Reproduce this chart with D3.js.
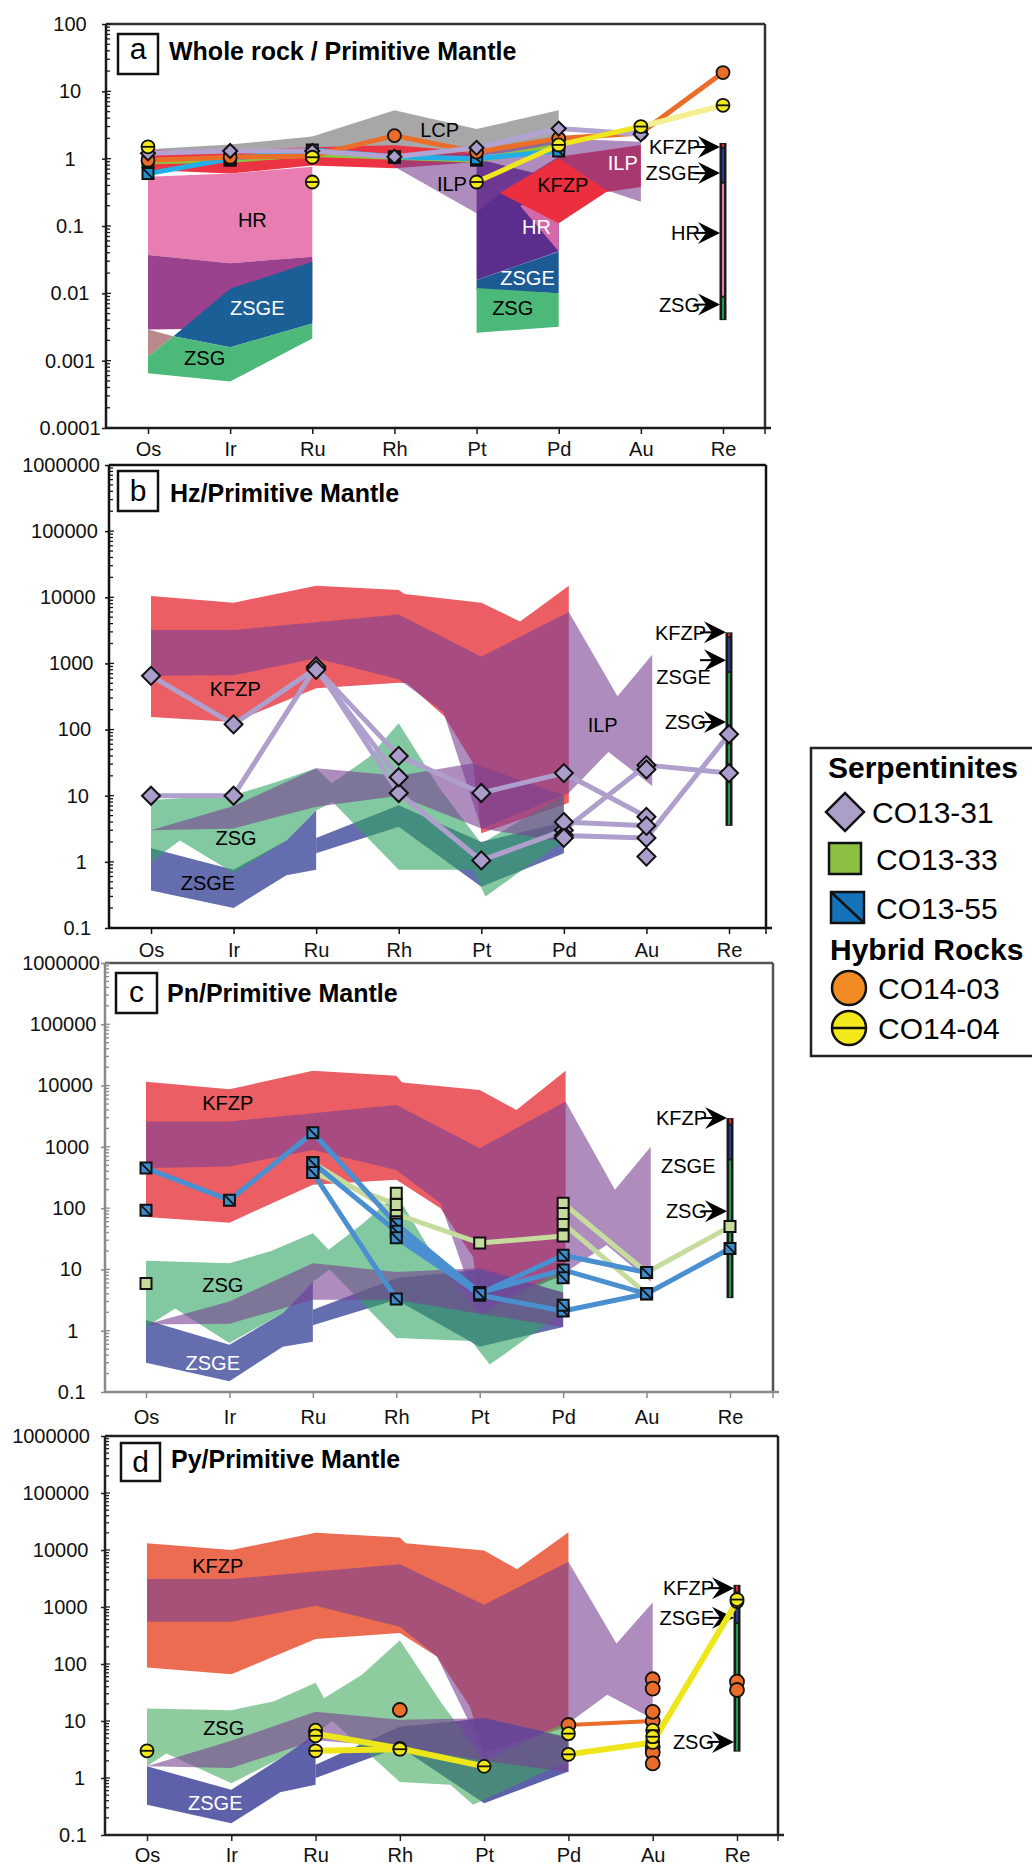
<!DOCTYPE html>
<html>
<head>
<meta charset="utf-8">
<script src="https://cdn.jsdelivr.net/npm/d3@7"></script>
<style>
  body { margin: 0; background: #ffffff; }
  svg { display: block; font-family: "Liberation Sans", Arial, sans-serif; }
</style>
</head>
<body>
<svg id="chart" width="1032" height="1870"></svg>
<script>
// ---------- categories and axis ticks ----------
const elements = ["Os", "Ir", "Ru", "Rh", "Pt", "Pd", "Au", "Re"];
const ticksA = [0.0001, 0.001, 0.01, 0.1, 1, 10, 100];
const tickTextA = ["0.0001", "0.001", "0.01", "0.1", "1", "10", "100"];
const ticksBCD = [0.1, 1, 10, 100, 1000, 10000, 100000, 1000000];
const tickTextBCD = ["0.1", "1", "10", "100", "1000", "10000", "100000", "1000000"];

// ---------- reference fields, panel a (element index, normalised value) ----------
const fieldLCP_a = [[0,1.38],[1,1.62],[2,2.14],[3,5.25],[4,2.75],[5,5.25],[5,1.41],[4,1.12],[3,1.05],[2,1.05],[1,1.0],[0,0.95]];
const fieldKFZP_a = [[0,1.35],[1,1.32],[2,1.48],[3,1.58],[4,1.26],[4,0.89],[3,0.72],[2,0.79],[1,0.6],[0,0.68]];
const fieldHR_a = [[0,0.54],[1,0.6],[2,0.76],[2,0.035],[1,0.028],[0,0.037]];
const fieldHRlow_a = [[0,0.037],[1,0.028],[2,0.035],[2,0.004],[1,0.003],[0,0.0029]];
const fieldZSGE_a = [[0.31,0.0023],[1,0.0117],[2,0.0295],[2,0.00355],[1,0.00158]];
const fieldMix_a = [[0,0.0029],[0.31,0.0023],[0,0.00115]];
const fieldZSG_a = [[0,0.00115],[0.31,0.0023],[1,0.00158],[2,0.00355],[2,0.00214],[1,0.00049],[0,0.00065]];
const fieldHRpt_a = [[4,1.0],[5,0.5],[5,0.042],[4,0.0158]];
const fieldHRtri_a = [[4.53,0.2],[5,0.3],[5,0.042]];
const fieldZSGEpt_a = [[4,0.0158],[5,0.0417],[5,0.010],[4,0.0112]];
const fieldZSGpt_a = [[4,0.012],[5,0.010],[5,0.0032],[4,0.0026]];
const fieldKFZPpd_a = [[4.28,0.31],[5,1.07],[6,1.6],[6,0.38],[5.58,0.32],[5,0.11]];
const fieldILP_a = [[3,1.05],[4,1.26],[5,2.0],[6,1.78],[6,0.23],[5.58,0.34],[5,1.0],[4.28,0.31],[4,0.155],[3,0.76]];

// ---------- reference fields, panel b ----------
const fieldKFZP_b = [[0,10500],[1,8300],[2,15000],[3,12900],[3.07,11200],[4,8300],[4.47,4300],[5.06,15000],
  [5.06,7.8],[4.0,2.7],[3.9,31],[3.55,160],[3.1,500],[3,510],[2,420],[1,130],[0,155]];
const fieldILP_b = [[0,3200],[1,3200],[2,4200],[3,5500],[4,1260],[5.06,6000],[5.65,320],[6.07,1350],
  [6.07,14],[5.54,46],[5.06,11],[4,3.2],[3.54,185],[3,575],[2,1200],[1,660],[0,650]];
const fieldILPlow_b = [[0,3.0],[1,7],[2,26],[3,20],[3.9,31],[5,10],[5,2],[4,3.2],[3,10],[2,6.8],[1,3.2],[0,3.0]];
const fieldZSGEleft_b = [[0,1.6],[1,0.76],[1.64,2.1],[2,6.0],[2,0.76],[1.64,0.63],[1,0.2],[0,0.37]];
const fieldZSGEright_b = [[2,2.3],[3,7.2],[4,2.0],[5,4.0],[5,1.35],[4,0.42],[3,3.4],[2,1.35]];
const fieldZSG_b = [[0,8.6],[1,10.2],[1.5,15.8],[2,26],[2.19,15.5],[2.65,39],[3,125],[3.5,12.6],[4,1.9],[5,10.2],
  [5,2.1],[4.05,0.3],[3.9,0.76],[3,0.76],[2.2,8],[2,6],[1.64,2.1],[1,0.68],[0.35,2.1],[0,1.0]];

// ---------- reference fields, panel c ----------
const fieldKFZP_c = [[0,11500],[1,8700],[2,17400],[3,14500],[3.07,11200],[4,8500],[4.44,4000],[5.03,17400],
  [5.03,8],[4.0,2.8],[3.92,16],[3.53,100],[3.0,290],[2,240],[1,58],[0,72]];
const fieldILP_c = [[0,2600],[1,2600],[2,3550],[3,4800],[4,950],[5.03,5500],[5.62,200],[6.05,1000],
  [6.05,6.3],[5.52,25],[5.03,9],[4,1.7],[3.53,120],[3,420],[2,890],[1,480],[0,450]];
const fieldILPlow_c = [[0,1.26],[1,3.0],[2,12.6],[3,9.1],[4,10.5],[5,4.2],[5,1.15],[4,1.9],[3,3.2],[2,3.2],[1,1.3],[0,1.26]];
const fieldZSGEleft_c = [[0,1.5],[1,0.59],[1.64,1.95],[2,6.3],[2,0.66],[1.64,0.55],[1,0.15],[0,0.3]];
const fieldZSGEright_c = [[2,2.2],[3,7.2],[4,10],[5,4.2],[5,1.15],[4,0.55],[3,3.2],[2,1.23]];
const fieldZSG_c = [[0,13.8],[1,12.6],[1.5,20],[2,39],[2.19,21],[2.6,56],[3,170],[3.5,12.6],[4,1.9],[5,10],
  [5,2],[4.12,0.28],[3.9,0.68],[3,0.76],[2.2,10],[2,6.3],[1.64,1.95],[1,0.63],[0.35,2.3],[0,1.15]];

// ---------- reference fields, panel d ----------
const fieldKFZP_d = [[0,13200],[1,10000],[2,20000],[3,16600],[3.07,13200],[4,9800],[4.39,4600],[5,20400],
  [5,8],[4,2.8],[3.83,18],[3.44,135],[3,350],[2,275],[1,66],[0,87]];
const fieldILP_d = [[0,3100],[1,3100],[2,4200],[3,5600],[4,1100],[5,6200],[5.57,230],[6,1200],
  [6,11],[5.46,29],[5,9.1],[4,2.75],[3.44,135],[3,450],[2,1050],[1,550],[0,550]];
const fieldILPlow_d = [[0,1.6],[1,4.5],[2,14.5],[3,10.5],[4,11.2],[5,5],[5,1.26],[4,2],[3,3.5],[2,4.6],[1,1.5],[0,1.6]];
const fieldZSGEleft_d = [[0,1.6],[1,0.62],[1.58,2.2],[2,6.0],[2,0.76],[1.58,0.56],[1,0.16],[0,0.34]];
const fieldZSGEright_d = [[2,1.7],[3,7.9],[4,11.2],[5,5.2],[5,1.3],[4,0.36],[3,3.5],[2,1.0]];
const fieldZSG_d = [[0,16.6],[1,15.5],[1.5,22],[2,47],[2.1,25],[2.55,65],[3,260],[3.5,20],[4,2],[5,10],
  [5,2],[3.87,0.34],[3.6,0.76],[3,0.85],[2.2,10],[2,6],[1.58,2.2],[1,0.81],[0.23,2.7],[0,1.6]];

// ---------- Re ranges of the fields (top, bottom, field) ----------
const reBarA = [[1.71,1.44,"KFZP"],[1.44,0.44,"ZSGE"],[0.44,0.0089,"HR"],[0.0089,0.004,"ZSG"]];
const reBarB = [[2950,2500,"KFZP"],[2500,740,"ZSGE"],[740,3.5,"ZSG"]];
const reBarC = [[2950,2300,"KFZP"],[2300,620,"ZSGE"],[620,3.4,"ZSG"]];
const reBarD = [[2450,1800,"KFZP"],[1800,525,"ZSGE"],[525,2.9,"ZSG"]];

// ---------- arrow annotations at Re (label, value) ----------
const arrowsA = [["KFZP",1.49],["ZSGE",0.61],["HR",0.079],["ZSG",0.0068]];
const arrowsB = [["KFZP",2950],["",1120],["ZSG",130]];
const arrowsC = [["KFZP",2950],["ZSG",89]];
const arrowsD = [["KFZP",2140],["ZSGE",645],["ZSG",4.3]];

// ---------- field labels (text, element index, value, colour) ----------
const labelsA = [["LCP",3.55,2.67,"#000"],["HR",1.27,0.123,"#000"],["ZSGE",1.33,0.006,"#fff"],["ZSG",0.69,0.0011,"#000"],
  ["ILP",3.70,0.42,"#000"],["KFZP",5.05,0.41,"#000"],["HR",4.73,0.097,"#fff"],["ZSGE",4.62,0.017,"#fff"],
  ["ZSG",4.44,0.006,"#000"],["ILP",5.78,0.86,"#fff"]];
const labelsB = [["KFZP",1.02,410,"#000"],["ZSG",1.03,2.3,"#000"],["ZSGE",0.69,0.48,"#000"],["ILP",5.47,120,"#000"],["ZSGE",6.45,630,"#000"]];
const labelsC = [["KFZP",0.98,5200,"#000"],["ZSG",0.92,5.6,"#000"],["ZSGE",0.80,0.30,"#fff"],["ZSGE",6.5,500,"#000"]];
const labelsD = [["KFZP",0.84,5200,"#000"],["ZSG",0.91,7.6,"#000"],["ZSGE",0.81,0.36,"#fff"]];

// ---------- sample data: panel a, whole rock ----------
const aCO13_31 = [1.2, 1.3, 1.3, 1.07, 1.45, 2.8, 2.3, null];
const aCO13_33 = [0.9, 0.95, 1.15, 1.05, 0.95, 1.55, null, null];
const aCO13_55 = [0.6, 1.0, 1.35, 1.07, 1.0, 1.3, null, null];
const aCO14_03 = [0.95, 1.05, 1.1, 2.2, 1.25, 2.0, 2.4, 19];
const aCO14_04 = [1.5, null, 1.05, null, 0.45, 1.6, 3.0, 6.2];
const aCO14_04_extra = [[2, 0.45]];

// ---------- panel b, Hz ----------
const bCO13_31_1 = [650, 120, 850, 40, 11, 22, 4.8, null];
const bCO13_31_2 = [10, 10, 900, 11, 1.05, 3.0, 29, 22];
const bCO13_31_3 = [null, null, 800, 19, null, null, null, null];
const bCO13_31_4 = [null, null, null, null, null, 2.5, 2.3, 85];
const bCO13_31_5 = [null, null, null, null, null, 4.0, 3.5, null];
const bCO13_31_extra = [[5, 2.3], [6, 25], [6, 1.2]];

// ---------- panel c, Pn ----------
const cCO13_33_1 = [null, null, 550, 80, 27, 35, null, null];
const cCO13_33_2 = [null, null, 380, 115, null, 120, 8.9, 50];
const cCO13_33_3 = [null, null, null, null, null, 56, 4.0, null];
const cCO13_33_extra = [[0, 5.9], [3, 175], [5, 82], [3, 60]];
const cCO13_55_1 = [450, 135, 1700, 55, 4.2, 9.8, 4.0, 22];
const cCO13_55_2 = [null, null, 550, 42, 3.8, 2.1, 4.0, null];
const cCO13_55_3 = [null, null, 380, 3.3, null, null, null, null];
const cCO13_55_4 = [null, null, null, 33, 4.0, 17, 8.9, null];
const cCO13_55_extra = [[0, 92], [5, 7.3], [5, 2.6]];

// ---------- panel d, Py ----------
const dCO14_03_1 = [null, null, null, null, null, 8.5, 10, null];
const dCO14_03_extra = [[3, 15.6], [6, 54], [6, 37], [6, 14.5], [6, 3.5], [6, 2.8], [6, 1.8], [7, 49], [7, 35]];
const dCO14_04_1 = [null, null, 6.0, 3.3, 1.6, null, null, null];
const dCO14_04_2 = [null, null, 3.0, 3.2, null, null, null, null];
const dCO14_04_3 = [null, null, null, null, null, 2.6, 4.2, 1250];
const dCO14_04_extra = [[0, 3.0], [2, 6.9], [2, 5.5], [5, 6.0], [6, 6.9], [6, 5.3], [7, 1350]];

// ---------- styles ----------
const ILP_FILL = "rgb(122,63,147)";
const reColours = { KFZP: "#e8202e", ZSGE: "#2b3a9a", HR: "#e77db0", ZSG: "#1f9a4a" };
const markColours = {
  diamond: "#ab9dcb", green: "#8bc043", greenPale: "#c6dc9e", blue: "#1f8fd0", blueC: "#3f8ccc",
  orange: "#ea6d2a", yellow: "#f2e81c"
};

const svg = d3.select("#chart");

const panels = [
  {
    letter: "a", title: "Whole rock / Primitive Mantle",
    left: 106, right: 765, top: 24, bottom: 428, xFirst: 148, xLast: 723,
    yDom: [1e-4, 100], ticks: ticksA, tickText: tickTextA,
    axisColour: "#1a1a1a", frameColour: "#333", labelPad: 8,
    box: [118, 34, 40, 40], letterY: 59, titleX: 169, titleY: 60,
    tickX: len => ({ anchor: "middle", x: 70 }),
    fields: [
      [fieldLCP_a, "#a7a7a7", 1], [fieldKFZP_a, "#ec3344", 1],
      [fieldHR_a, "#e77db0", 1], [fieldHRlow_a, "#9b418e", 1], [fieldZSGE_a, "#1b5f97", 1],
      [fieldMix_a, "#b9898c", 1], [fieldZSG_a, "#4cb97a", 1],
      [fieldHRpt_a, "#5b2e8e", 1], [fieldHRtri_a, "#d468a8", 1], [fieldZSGEpt_a, "#1d5b95", 1], [fieldZSGpt_a, "#4cb97a", 1],
      [fieldKFZPpd_a, "#ec2f3e", 1], [fieldILP_a, ILP_FILL, 0.6]
    ],
    reBar: reBarA, arrows: arrowsA, labels: labelsA
  },
  {
    letter: "b", title: "Hz/Primitive Mantle",
    left: 109, right: 766, top: 465, bottom: 928, xFirst: 151, xLast: 729,
    yDom: [0.1, 1e6], ticks: ticksBCD, tickText: tickTextBCD,
    axisColour: "#111", frameColour: "#111", labelPad: 9,
    box: [118, 471, 40, 40], letterY: 501, titleX: 170, titleY: 502,
    tickX: len => ({ anchor: "end", x: 100 - (7 - len) * 2.2 }),
    fields: [
      [fieldKFZP_b, "#ea5e64", 1], [fieldILP_b, ILP_FILL, 0.6],
      [fieldZSGEleft_b, "rgb(83,94,166)", 0.9], [fieldZSGEright_b, "rgb(83,94,166)", 0.9],
      [fieldZSG_b, "rgb(47,163,97)", 0.6], [fieldILPlow_b, ILP_FILL, 0.6]
    ],
    reBar: reBarB, arrows: arrowsB, labels: labelsB
  },
  {
    letter: "c", title: "Pn/Primitive Mantle",
    left: 105, right: 773, top: 963, bottom: 1392, xFirst: 146, xLast: 730,
    yDom: [0.1, 1e6], ticks: ticksBCD, tickText: tickTextBCD,
    axisColour: "#8a8a8a", frameColour: "#555", labelPad: 12,
    box: [116, 973, 41, 40], letterY: 1002, titleX: 167, titleY: 1002,
    tickX: len => ({ anchor: "end", x: 100 - (7 - len) * 3.6 }),
    fields: [
      [fieldKFZP_c, "#ea5e64", 1], [fieldILP_c, ILP_FILL, 0.6],
      [fieldZSGEleft_c, "rgb(83,94,166)", 0.9], [fieldZSGEright_c, "rgb(83,94,166)", 0.9],
      [fieldZSG_c, "rgb(47,163,97)", 0.6], [fieldILPlow_c, ILP_FILL, 0.6]
    ],
    reBar: reBarC, arrows: arrowsC, labels: labelsC
  },
  {
    letter: "d", title: "Py/Primitive Mantle",
    left: 105, right: 778, top: 1436, bottom: 1835, xFirst: 147, xLast: 737,
    yDom: [0.1, 1e6], ticks: ticksBCD, tickText: tickTextBCD,
    axisColour: "#222", frameColour: "#222", labelPad: 7,
    box: [121, 1443, 39, 38], letterY: 1472, titleX: 171, titleY: 1468,
    tickX: len => ({ anchor: "end", x: 90 - (7 - len) * 0.8 }),
    fields: [
      [fieldKFZP_d, "#ec6c52", 1], [fieldILP_d, ILP_FILL, 0.6],
      [fieldZSGEleft_d, "rgb(75,80,160)", 0.9], [fieldZSGEright_d, "rgb(75,80,160)", 0.9],
      [fieldZSG_d, "rgb(60,165,90)", 0.58], [fieldILPlow_d, ILP_FILL, 0.6]
    ],
    reBar: reBarD, arrows: arrowsD, labels: labelsD
  }
];

// sample series per panel: values, line colour, line width, marker, marker size
const seriesByPanel = {
  a: [
    { vals: aCO13_33, line: "#8cc63f", w: 5, mark: "square", fill: markColours.green, s: 11 },
    { vals: aCO13_55, line: "#22aee6", w: 5, mark: "squareDiag", fill: markColours.blue, s: 11 },
    { vals: aCO14_03, line: "#ea6d2a", w: 5, mark: "circle", fill: markColours.orange, s: 6.5 },
    { vals: aCO13_31, line: "#b3a3d2", w: 5, mark: "diamond", fill: markColours.diamond, s: 7 },
    { vals: aCO14_04, line: "#f0e61e", w: 5, mark: "circleBar", fill: markColours.yellow, s: 6.5, fadeLast: "#f4ef94" },
    { pts: aCO14_04_extra, mark: "circleBar", fill: markColours.yellow, s: 6.5 }
  ],
  b: [
    { vals: bCO13_31_1, line: "#ae9fcc", w: 5, mark: "diamond", fill: markColours.diamond, s: 9 },
    { vals: bCO13_31_2, line: "#ae9fcc", w: 5, mark: "diamond", fill: markColours.diamond, s: 9 },
    { vals: bCO13_31_3, line: "#ae9fcc", w: 5, mark: "diamond", fill: markColours.diamond, s: 9 },
    { vals: bCO13_31_4, line: "#ae9fcc", w: 5, mark: "diamond", fill: markColours.diamond, s: 9 },
    { vals: bCO13_31_5, line: "#ae9fcc", w: 5, mark: "diamond", fill: markColours.diamond, s: 9 },
    { pts: bCO13_31_extra, mark: "diamond", fill: markColours.diamond, s: 9 }
  ],
  c: [
    { vals: cCO13_33_1, line: "#c6dc9e", w: 5, mark: "square", fill: markColours.greenPale, s: 11 },
    { vals: cCO13_33_2, line: "#c6dc9e", w: 5, mark: "square", fill: markColours.greenPale, s: 11 },
    { vals: cCO13_33_3, line: "#c6dc9e", w: 5, mark: "square", fill: markColours.greenPale, s: 11 },
    { pts: cCO13_33_extra, mark: "square", fill: markColours.greenPale, s: 11 },
    { vals: cCO13_55_1, line: "#4a8fd0", w: 5, mark: "squareDiag", fill: markColours.blueC, s: 11 },
    { vals: cCO13_55_2, line: "#4a8fd0", w: 5, mark: "squareDiag", fill: markColours.blueC, s: 11 },
    { vals: cCO13_55_3, line: "#4a8fd0", w: 5, mark: "squareDiag", fill: markColours.blueC, s: 11 },
    { vals: cCO13_55_4, line: "#4a8fd0", w: 5, mark: "squareDiag", fill: markColours.blueC, s: 11 },
    { pts: cCO13_55_extra, mark: "squareDiag", fill: markColours.blueC, s: 11 }
  ],
  d: [
    { vals: dCO14_03_1, line: "#ea6d2a", w: 4, mark: "circle", fill: markColours.orange, s: 7 },
    { pts: dCO14_03_extra, mark: "circle", fill: markColours.orange, s: 7 },
    { vals: dCO14_04_1, line: "#eee61a", w: 6, mark: "circleBar", fill: markColours.yellow, s: 6.5 },
    { vals: dCO14_04_2, line: "#eee61a", w: 6, mark: "circleBar", fill: markColours.yellow, s: 6.5 },
    { vals: dCO14_04_3, line: "#eee61a", w: 6, mark: "circleBar", fill: markColours.yellow, s: 6.5 },
    { pts: dCO14_04_extra, mark: "circleBar", fill: markColours.yellow, s: 6.5 }
  ]
};

// ---------- marker drawing ----------
function drawMarker(g, type, cx, cy, s, fill) {
  if (type === "diamond") {
    g.append("path")
      .attr("d", d3.symbol(d3.symbolSquare, 2 * s * s)())
      .attr("transform", `translate(${cx},${cy}) rotate(45)`)
      .attr("fill", fill).attr("stroke", "#111").attr("stroke-width", 2);
  } else if (type === "square" || type === "squareDiag") {
    g.append("path")
      .attr("d", d3.symbol(d3.symbolSquare, s * s)())
      .attr("transform", `translate(${cx},${cy})`)
      .attr("fill", fill).attr("stroke", "#111").attr("stroke-width", 2);
    if (type === "squareDiag") {
      g.append("line").attr("x1", cx - s / 2).attr("y1", cy - s / 2).attr("x2", cx + s / 2).attr("y2", cy + s / 2)
        .attr("stroke", "#111").attr("stroke-width", 1.8);
    }
  } else {
    g.append("circle").attr("cx", cx).attr("cy", cy).attr("r", s)
      .attr("fill", fill).attr("stroke", "#111").attr("stroke-width", 1.8);
    if (type === "circleBar") {
      g.append("line").attr("x1", cx - s).attr("y1", cy).attr("x2", cx + s).attr("y2", cy)
        .attr("stroke", "#111").attr("stroke-width", 1.8);
    }
  }
}

// ---------- panels ----------
panels.forEach(p => {
  const g = svg.append("g").attr("class", "panel-" + p.letter);
  const x = d3.scaleLinear().domain([0, elements.length - 1]).range([p.xFirst, p.xLast]);
  const xCat = d3.scalePoint().domain(elements).range([p.xFirst, p.xLast]);
  const y = d3.scaleLog().domain(p.yDom).range([p.bottom, p.top]);

  // reference fields
  const area = d3.line().x(d => x(d[0])).y(d => y(d[1]));
  const fg = g.append("g");
  p.fields.forEach(([pts, fill, op]) => {
    fg.append("path").attr("d", area(pts) + "Z").attr("fill", fill).attr("fill-opacity", op);
  });

  // field labels
  p.labels.forEach(([t, xi, v, col]) => {
    g.append("text").attr("x", x(xi)).attr("y", y(v)).attr("dy", "0.36em")
      .attr("text-anchor", "middle").attr("font-size", 20).attr("fill", col).text(t);
  });

  // Re range bar
  const bx = x(7);
  const barTop = p.reBar[0][0], barBot = p.reBar[p.reBar.length - 1][1];
  g.append("rect").attr("x", bx - 3.5).attr("y", y(barTop)).attr("width", 7).attr("height", y(barBot) - y(barTop))
    .attr("fill", "#1a1a1a");
  p.reBar.forEach(([t, b, f]) => {
    g.append("rect").attr("x", bx - 1).attr("y", y(t) + 1).attr("width", 2).attr("height", Math.max(1, y(b) - y(t) - 2))
      .attr("fill", reColours[f]);
  });

  // arrows pointing at the Re bar
  p.arrows.forEach(([t, v]) => {
    const tx = bx - 3, ty = y(v);
    g.append("line").attr("x1", tx - 26).attr("y1", ty).attr("x2", tx - 12).attr("y2", ty)
      .attr("stroke", "#000").attr("stroke-width", 2);
    g.append("path").attr("d", `M${tx},${ty}L${tx - 22},${ty - 11}L${tx - 14},${ty}L${tx - 22},${ty + 11}Z`)
      .attr("fill", "#000");
    if (t) {
      g.append("text").attr("x", tx - 20).attr("y", ty).attr("dy", "0.36em").attr("text-anchor", "end")
        .attr("font-size", 20).attr("fill", "#000").text(t);
    }
  });

  // sample lines, then markers on top
  const lg = g.append("g");
  const mg = g.append("g");
  const line = d3.line().defined(d => d[1] != null).x(d => x(d[0])).y(d => y(d[1]));
  const series = seriesByPanel[p.letter];
  series.forEach(s => {
    if (!s.vals) return;
    const pts = s.vals.map((v, i) => [i, v]);
    lg.append("path").attr("d", line(pts)).attr("fill", "none").attr("stroke", s.line)
      .attr("stroke-width", s.w).attr("stroke-linejoin", "round").attr("stroke-linecap", "round");
    if (s.fadeLast && s.vals[6] != null && s.vals[7] != null) {
      lg.append("path").attr("d", line([[6, s.vals[6]], [7, s.vals[7]]])).attr("fill", "none")
        .attr("stroke", s.fadeLast).attr("stroke-width", s.w);
    }
  });
  series.forEach(s => {
    const pts = s.vals ? s.vals.map((v, i) => [i, v]).filter(d => d[1] != null) : s.pts;
    pts.forEach(d => drawMarker(mg, s.mark, x(d[0]), y(d[1]), s.s, s.fill));
  });

  // frame: top and right borders
  g.append("line").attr("x1", p.left).attr("x2", p.right).attr("y1", p.top).attr("y2", p.top)
    .attr("stroke", p.frameColour).attr("stroke-width", 2.5);
  g.append("line").attr("x1", p.right).attr("x2", p.right).attr("y1", p.top).attr("y2", p.bottom)
    .attr("stroke", p.frameColour).attr("stroke-width", 2.5);

  // left (log) axis
  const yAxis = g.append("g").attr("transform", `translate(${p.left},0)`)
    .call(d3.axisLeft(y).tickValues(p.ticks).tickFormat((d, i) => p.tickText[i]).tickSize(4).tickPadding(8));
  yAxis.select(".domain").remove();
  yAxis.selectAll(".tick line").attr("stroke", p.axisColour).attr("stroke-width", 1.5);
  yAxis.selectAll(".tick text").attr("font-size", 20).attr("fill", "#111")
    .attr("font-family", '"Liberation Sans", Arial, sans-serif')
    .each(function (d, i) {
      const pos = p.tickX(p.tickText[i].length);
      d3.select(this).attr("text-anchor", pos.anchor).attr("x", pos.x - p.left);
    });
  // inner major + minor ticks
  const minor = [];
  const lo = Math.round(Math.log10(p.yDom[0])), hi = Math.round(Math.log10(p.yDom[1]));
  for (let e = lo; e < hi; e++) for (let k = 1; k <= 9; k++) minor.push(k * Math.pow(10, e));
  minor.push(p.yDom[1]);
  g.append("g").selectAll("line").data(minor).join("line")
    .attr("x1", p.left).attr("x2", d => p.left + (Math.abs(Math.log10(d) - Math.round(Math.log10(d))) < 1e-9 ? 5 : 4))
    .attr("y1", d => y(d)).attr("y2", d => y(d))
    .attr("stroke", p.axisColour).attr("stroke-width", 1.3);
  g.append("line").attr("x1", p.left).attr("x2", p.left).attr("y1", p.top).attr("y2", p.bottom)
    .attr("stroke", p.axisColour).attr("stroke-width", 2.5);

  // bottom (element) axis
  const xAxis = g.append("g").attr("transform", `translate(0,${p.bottom})`)
    .call(d3.axisBottom(xCat).tickSize(6).tickPadding(p.labelPad));
  xAxis.select(".domain").remove();
  xAxis.selectAll(".tick line").attr("stroke", p.axisColour).attr("stroke-width", 1.5);
  xAxis.selectAll(".tick text").attr("font-size", 20).attr("fill", "#111")
    .attr("font-family", '"Liberation Sans", Arial, sans-serif');
  g.append("line").attr("x1", p.left).attr("x2", p.right + 6).attr("y1", p.bottom).attr("y2", p.bottom)
    .attr("stroke", p.axisColour).attr("stroke-width", 2.5);
  g.append("line").attr("x1", p.right).attr("x2", p.right).attr("y1", p.bottom).attr("y2", p.bottom + 6)
    .attr("stroke", p.axisColour).attr("stroke-width", 1.5);

  // panel letter and title
  g.append("rect").attr("x", p.box[0]).attr("y", p.box[1]).attr("width", p.box[2]).attr("height", p.box[3])
    .attr("fill", "#fff").attr("stroke", "#111").attr("stroke-width", 2.5);
  g.append("text").attr("x", p.box[0] + p.box[2] / 2).attr("y", p.letterY).attr("text-anchor", "middle")
    .attr("font-size", 30).attr("fill", "#000").text(p.letter);
  g.append("text").attr("x", p.titleX).attr("y", p.titleY).attr("font-size", 25).attr("font-weight", "bold")
    .attr("fill", "#000").text(p.title);
});

// ---------- legend ----------
const legendItems = [
  { kind: "head", text: "Serpentinites", y: 778, x: 828 },
  { kind: "diamond", text: "CO13-31", y: 812, tx: 872 },
  { kind: "square", text: "CO13-33", y: 859, tx: 876 },
  { kind: "squareDiag", text: "CO13-55", y: 908, tx: 876 },
  { kind: "head", text: "Hybrid Rocks", y: 960, x: 830 },
  { kind: "circle", text: "CO14-03", y: 988, tx: 878 },
  { kind: "circleBar", text: "CO14-04", y: 1028, tx: 878 }
];
const leg = svg.append("g");
leg.append("rect").attr("x", 811).attr("y", 748).attr("width", 240).attr("height", 308)
  .attr("fill", "#fff").attr("stroke", "#222").attr("stroke-width", 2.5);
legendItems.forEach(it => {
  if (it.kind === "head") {
    leg.append("text").attr("x", it.x).attr("y", it.y).attr("font-size", 30).attr("font-weight", "bold")
      .attr("fill", "#000").text(it.text);
    return;
  }
  if (it.kind === "diamond") {
    leg.append("path").attr("d", d3.symbol(d3.symbolSquare, 2 * 19 * 19)())
      .attr("transform", `translate(845,${it.y}) rotate(45)`)
      .attr("fill", "#ab9ec9").attr("stroke", "#111").attr("stroke-width", 2.5);
  } else if (it.kind === "square") {
    leg.append("rect").attr("x", 829).attr("y", it.y - 16).attr("width", 32).attr("height", 31)
      .attr("fill", "#8bc043").attr("stroke", "#111").attr("stroke-width", 2.5);
  } else if (it.kind === "squareDiag") {
    leg.append("rect").attr("x", 831).attr("y", it.y - 16).attr("width", 33).attr("height", 31)
      .attr("fill", "#1473b8").attr("stroke", "#111").attr("stroke-width", 2.5);
    leg.append("line").attr("x1", 831).attr("y1", it.y - 16).attr("x2", 864).attr("y2", it.y + 15)
      .attr("stroke", "#111").attr("stroke-width", 2.5);
  } else {
    leg.append("circle").attr("cx", 849).attr("cy", it.y).attr("r", 17)
      .attr("fill", it.kind === "circle" ? "#f08c23" : "#f2e81c").attr("stroke", "#111").attr("stroke-width", 2.5);
    if (it.kind === "circleBar") {
      leg.append("line").attr("x1", 832).attr("x2", 866).attr("y1", it.y).attr("y2", it.y)
        .attr("stroke", "#111").attr("stroke-width", 2.5);
    }
  }
  leg.append("text").attr("x", it.tx).attr("y", it.y).attr("dy", "0.36em").attr("font-size", 30)
    .attr("fill", "#000").text(it.text);
});
</script>
</body>
</html>
